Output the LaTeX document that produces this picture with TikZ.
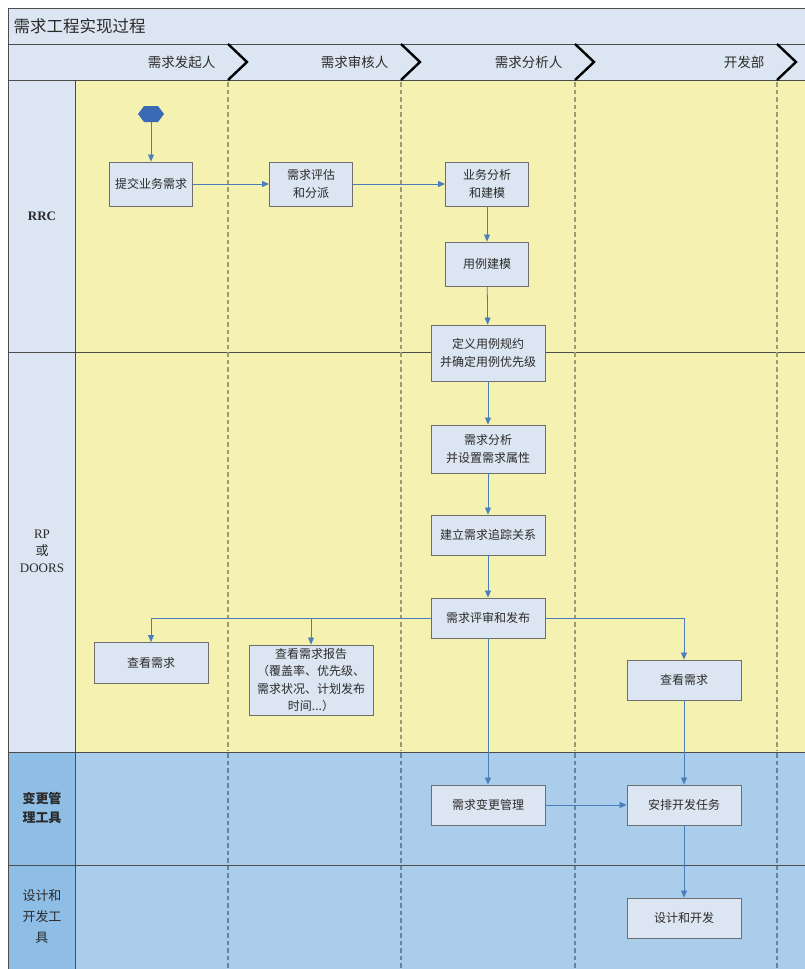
\documentclass[tikz,border=0pt]{standalone}
\usepackage{fontspec}
\setmainfont{Liberation Serif}
\newfontfamily\cjk{Noto Sans CJK SC}
\usetikzlibrary{arrows.meta,shapes.geometric}
\definecolor{hdr}{HTML}{DCE6F2}
\definecolor{yel}{HTML}{F5F1B1}
\definecolor{blu}{HTML}{A9CDEB}
\definecolor{bluL}{HTML}{8EBEE6}
\definecolor{boxf}{HTML}{DCE6F2}
\definecolor{boxd}{HTML}{6E6E6E}
\definecolor{arr}{HTML}{4A7EBB}
\definecolor{hexf}{HTML}{3A6AB4}
\definecolor{txt}{HTML}{2A2A2A}
\definecolor{dashY}{HTML}{9C9C74}
\definecolor{dashB}{HTML}{6F8397}
\tikzset{
  stepbox/.style={draw=boxd, fill=boxf, line width=0.9pt, minimum width=83pt, minimum height=44pt, align=center, font=\cjk\fontsize{12}{17.5}\selectfont, text=txt, inner sep=2pt},
  widebox/.style={stepbox, minimum width=114pt, minimum height=40pt},
  flow/.style={draw=arr, line width=0.8pt, -{Triangle[length=7pt,width=6pt]}},
  lanesep/.style={draw=black!70, line width=0.8pt},
  dashv/.style={line width=2.8pt, dash pattern=on 4.5pt off 3pt},
  chev/.style={draw=black, line width=2.4pt},
  hlabel/.style={font=\cjk\fontsize{13.5}{15}\selectfont, text=txt, anchor=east},
  lanelabel/.style={align=center, font=\fontsize{13}{17}\selectfont, text=txt}
}
\begin{document}
\begin{tikzpicture}[x=1pt,y=-1pt]
\useasboundingbox (0,0) rectangle (805,969);
% backgrounds
\fill[white] (0,0) rectangle (805,969);
\fill[hdr] (8,8) rectangle (805,80);
\fill[hdr] (8,80) rectangle (75,752);
\fill[yel] (75,80) rectangle (805,752);
\fill[bluL] (8,752) rectangle (75,969);
\fill[blu] (75,752) rectangle (805,969);
% frame lines
\draw[lanesep] (8,969) -- (8,8) -- (805,8);
\draw[lanesep] (8,44) -- (805,44);
\draw[lanesep] (8,80) -- (805,80);
\draw[lanesep] (75,80) -- (75,969);
\draw[lanesep] (8,352) -- (805,352);
\draw[lanesep] (8,752) -- (805,752);
\draw[lanesep] (8,865) -- (805,865);
% title
\node[anchor=west, font=\cjk\fontsize{16.5}{18}\selectfont, text=txt] (title) at (10,26) {需求工程实现过程};
% header labels and chevrons
\node[hlabel] (h1) at (219,62) {需求发起人};
\node[hlabel] (h2) at (392,62) {需求审核人};
\node[hlabel] (h3) at (566,62) {需求分析人};
\node[hlabel] (h4) at (768,62) {开发部};
\foreach \x in {228,401,575,777}{
  \draw[chev] (\x,44) -- (\x+19,62) -- (\x,80);
  \draw[dashv, draw=dashY] (\x,82) -- (\x,751);
  \draw[dashv, draw=dashB] (\x,753) -- (\x,969);
}
% lane labels
\node[lanelabel, font=\bfseries\fontsize{13}{17}\selectfont] (l1) at (42,216) {RRC};
\node[lanelabel] (l2) at (42,551) {RP\\{\cjk 或}\\DOORS};
\node[lanelabel, font=\cjk\bfseries\fontsize{13}{19}\selectfont] (l3) at (42,808) {变更管\\理工具};
\node[lanelabel, font=\cjk\fontsize{13}{21}\selectfont] (l4) at (42,917) {设计和\\开发工\\具};
% start (hexagon, pointed left and right)
\fill[hexf] (138,114) -- (144,106) -- (158,106) -- (164,114) -- (158,122) -- (144,122) -- cycle;
\coordinate (start) at (151,122);
% boxes
\node[stepbox] (submit) at (151,184) {提交业务需求};
\node[stepbox] (assess) at (311,184) {需求评估\\和分派};
\node[stepbox] (model) at (487,184) {业务分析\\和建模};
\node[stepbox] (usecase) at (487,264) {用例建模};
\node[widebox, minimum height=56pt] (spec) at (488,353) {定义用例规约\\并确定用例优先级};
\node[widebox, minimum height=48pt] (attr) at (488,449) {需求分析\\并设置需求属性};
\node[widebox] (trace) at (488,535) {建立需求追踪关系};
\node[widebox] (review) at (488,618) {需求评审和发布};
\node[widebox, minimum height=41pt] (viewL) at (151,663) {查看需求};
\node[widebox, minimum width=124pt, minimum height=70pt] (report) at (311,680) {查看需求报告\\（覆盖率、优先级、\\需求状况、计划发布\\时间...）};
\node[widebox] (viewR) at (684,680) {查看需求};
\node[widebox] (change) at (488,805) {需求变更管理};
\node[widebox] (task) at (684,805) {安排开发任务};
\node[widebox] (dev) at (684,918) {设计和开发};
% connectors
\draw[flow] (start) -- (submit);
\draw[flow] (submit) -- (assess);
\draw[flow] (assess) -- (model);
\draw[flow] (model) -- (usecase);
\draw[flow] (usecase) -- (spec);
\draw[flow] (spec) -- (attr);
\draw[flow] (attr) -- (trace);
\draw[flow] (trace) -- (review);
\draw[flow] (review.west) -| (viewL.north);
\draw[flow] (review.west) -| (report.north);
\draw[flow] (review.east) -| (viewR.north);
\draw[flow] (review) -- (change);
\draw[flow] (change) -- (task);
\draw[flow] (viewR) -- (task);
\draw[flow] (task) -- (dev);
\end{tikzpicture}
\end{document}
